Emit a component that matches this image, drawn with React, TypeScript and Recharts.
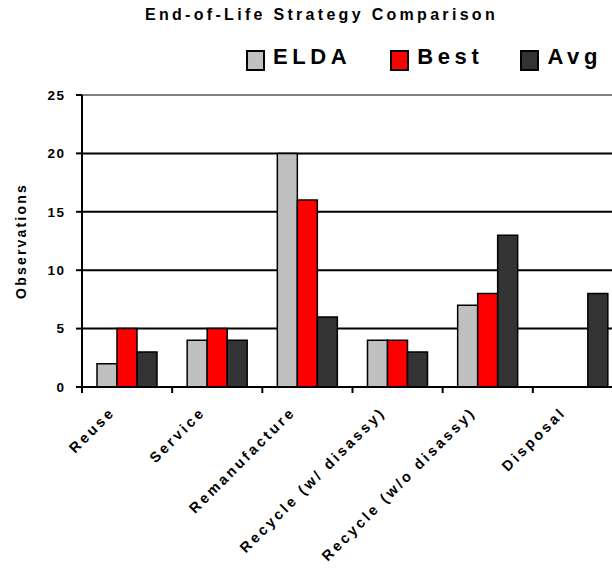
import React from 'react';
import { BarChart, Bar, XAxis, YAxis, CartesianGrid, Legend, ReferenceLine, Label } from 'recharts';

const categories = [
  'Reuse',
  'Service',
  'Remanufacture',
  'Recycle (w/ disassy)',
  'Recycle (w/o disassy)',
  'Disposal',
];
const eldaValues = [2, 4, 20, 4, 7, 0];
const bestValues = [5, 5, 16, 4, 8, 0];
const avgValues = [3, 4, 6, 3, 13, 8];
const yTicks = [0, 5, 10, 15, 20, 25];
const seriesOrder = ['ELDA', 'Best', 'Avg'];

const data = categories.map((c, i) => ({
  category: c,
  ELDA: eldaValues[i],
  Best: bestValues[i],
  Avg: avgValues[i],
}));

const FONT = "'Liberation Sans', Arial, Helvetica, sans-serif";
const BAND = 90.2;

const CategoryTick = (props: any) => {
  const { x, y, payload } = props;
  const bx = x - BAND / 2;
  const tx = x - 11;
  const ty = y + 26;
  return (
    <g>
      <line x1={bx} x2={bx} y1={y} y2={y + 6} stroke="#000" strokeWidth={2} />
      <text
        x={tx}
        y={ty}
        transform={`rotate(-45, ${tx}, ${ty})`}
        textAnchor="end"
        fontFamily={FONT}
        fontSize={14.5}
        fontWeight="bold"
        letterSpacing={2.9}
        fill="#000"
      >
        {payload.value}
      </text>
    </g>
  );
};

const renderLegend = (props: any) => {
  const raw = props.payload || [];
  const items = seriesOrder
    .map((n) => raw.find((e: any) => e.value === n))
    .filter(Boolean);
  const gaps = [39, 37, 0];
  return (
    <div style={{ display: 'flex', fontFamily: FONT }}>
      {items.map((e: any, i: number) => (
        <div key={i} style={{ display: 'flex', alignItems: 'flex-start', marginRight: gaps[i] }}>
          <div
            style={{
              width: 19,
              height: 21,
              boxSizing: 'border-box',
              border: '2px solid #000',
              background: e.color,
              marginTop: 4,
            }}
          />
          <span
            style={{
              marginLeft: 8,
              fontSize: 22,
              lineHeight: '22px',
              fontWeight: 'bold',
              letterSpacing: 4.6,
              color: '#000',
              whiteSpace: 'nowrap',
            }}
          >
            {e.value}
          </span>
        </div>
      ))}
    </div>
  );
};

const YLabel = (props: any) => {
  const vb = props.viewBox || { x: 0, y: 95, width: 82, height: 292 };
  const x = vb.x + 26;
  const y = vb.y + vb.height / 2;
  return (
    <text
      x={x}
      y={y}
      transform={`rotate(-90, ${x}, ${y})`}
      textAnchor="middle"
      fontFamily={FONT}
      fontSize={14}
      fontWeight="bold"
      letterSpacing={2.2}
      fill="#000"
    >
      Observations
    </text>
  );
};

export default function App() {
  return (
    <div
      style={{
        position: 'absolute',
        left: 0,
        top: 0,
        width: 612,
        height: 569,
        overflow: 'hidden',
        background: '#fff',
      }}
    >
      <div
        style={{
          position: 'absolute',
          left: 145,
          top: 7,
          fontFamily: FONT,
          fontSize: 16,
          lineHeight: '16px',
          fontWeight: 'bold',
          letterSpacing: 3.3,
          whiteSpace: 'nowrap',
          color: '#000',
        }}
      >
        End-of-Life Strategy Comparison
      </div>
      <BarChart
        width={640}
        height={569}
        data={data}
        margin={{ top: 95, right: 17, bottom: 32, left: 0 }}
        barCategoryGap={15}
        barGap={0}
      >
        <CartesianGrid horizontal={true} vertical={false} stroke="#000" strokeWidth={2} />
        <XAxis
          dataKey="category"
          height={150}
          interval={0}
          tickSize={0}
          tickMargin={0}
          tickLine={false}
          axisLine={{ stroke: '#000', strokeWidth: 2 }}
          tick={<CategoryTick />}
        />
        <YAxis
          width={82}
          domain={[0, 25]}
          ticks={yTicks}
          interval={0}
          tickSize={6}
          tickMargin={10.5}
          tickLine={{ stroke: '#000', strokeWidth: 2 }}
          axisLine={{ stroke: '#000', strokeWidth: 2 }}
          tick={{ fontSize: 13.5, fontWeight: 'bold', fill: '#000', fontFamily: FONT, letterSpacing: 1.5 }}
        >
          <Label content={<YLabel />} />
        </YAxis>
        <ReferenceLine y={25} stroke="#808080" strokeWidth={2} />
        <Legend
          layout="horizontal"
          verticalAlign="middle"
          align="center"
          content={renderLegend}
          wrapperStyle={{ left: 246, top: 46, width: 380, height: 26 }}
        />
        <Bar dataKey="ELDA" name="ELDA" fill="#C0C0C0" stroke="#000" strokeWidth={1.5} isAnimationActive={false} />
        <Bar dataKey="Best" name="Best" fill="#FF0000" stroke="#000" strokeWidth={1.5} isAnimationActive={false} />
        <Bar dataKey="Avg" name="Avg" fill="#333333" stroke="#000" strokeWidth={1.5} isAnimationActive={false} />
      </BarChart>
    </div>
  );
}
